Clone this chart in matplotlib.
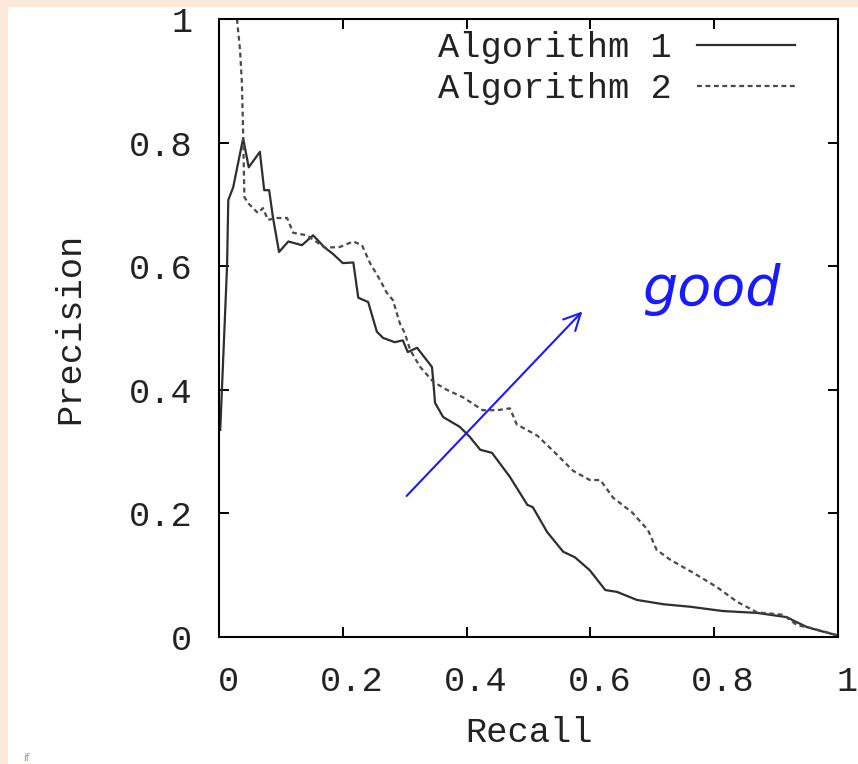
import numpy as np
import matplotlib
matplotlib.use("Agg")
import matplotlib.pyplot as plt
import matplotlib.transforms as mtransforms
from matplotlib.patches import Rectangle

# precision / recall curves
recall_alg1 = [0.002, 0.013, 0.015, 0.023, 0.039, 0.048, 0.066, 0.073, 0.081, 0.087,
               0.097, 0.112, 0.134, 0.152, 0.171, 0.184, 0.200, 0.217, 0.225, 0.241,
               0.255, 0.265, 0.284, 0.297, 0.305, 0.320, 0.344, 0.346, 0.349, 0.362,
               0.389, 0.405, 0.422, 0.441, 0.470, 0.498, 0.507, 0.530, 0.556, 0.575,
               0.599, 0.624, 0.643, 0.675, 0.718, 0.761, 0.814, 0.869, 0.918, 0.927,
               0.950, 0.971, 0.998]
precision_alg1 = [0.335, 0.600, 0.707, 0.728, 0.807, 0.760, 0.785, 0.723, 0.723, 0.680,
                  0.623, 0.640, 0.634, 0.650, 0.630, 0.620, 0.605, 0.606, 0.549, 0.542,
                  0.494, 0.484, 0.477, 0.480, 0.461, 0.468, 0.437, 0.416, 0.379, 0.356,
                  0.340, 0.324, 0.303, 0.298, 0.259, 0.214, 0.210, 0.170, 0.138, 0.129,
                  0.108, 0.076, 0.073, 0.060, 0.053, 0.049, 0.042, 0.039, 0.032, 0.027,
                  0.016, 0.010, 0.003]

recall_alg2 = [0.029, 0.034, 0.037, 0.039, 0.041, 0.047, 0.063, 0.071, 0.079, 0.094,
               0.110, 0.120, 0.142, 0.171, 0.195, 0.217, 0.231, 0.244, 0.260, 0.271,
               0.281, 0.292, 0.300, 0.309, 0.325, 0.346, 0.368, 0.394, 0.426, 0.449,
               0.470, 0.481, 0.514, 0.540, 0.572, 0.599, 0.616, 0.637, 0.667, 0.693,
               0.707, 0.729, 0.766, 0.804, 0.837, 0.869, 0.911, 0.934, 0.955, 0.998]
precision_alg2 = [1.000, 0.950, 0.896, 0.815, 0.712, 0.702, 0.686, 0.694, 0.675, 0.678,
                  0.678, 0.654, 0.650, 0.630, 0.631, 0.640, 0.634, 0.605, 0.578, 0.557,
                  0.545, 0.508, 0.492, 0.464, 0.437, 0.413, 0.400, 0.388, 0.367, 0.367,
                  0.370, 0.344, 0.326, 0.301, 0.269, 0.254, 0.254, 0.225, 0.202, 0.173,
                  0.141, 0.125, 0.104, 0.081, 0.057, 0.040, 0.036, 0.019, 0.015, 0.003]

series_names = ["Algorithm 1", "Algorithm 2"]
tick_values = [0, 0.2, 0.4, 0.6, 0.8, 1]
tick_labels = ["0", "0.2", "0.4", "0.6", "0.8", "1"]

mono = "Liberation Mono"
fs = 25.5

fig = plt.figure(figsize=(8.58, 7.64), dpi=100)
fig.patch.set_facecolor("#fde9da")
# white page area, peach strip left and top
fig.patches.append(Rectangle((8 / 858, 0), 1, 1 - 7 / 764, transform=fig.transFigure,
                             facecolor="white", edgecolor="none", zorder=-5))
fig.text(23 / 858, 1 / 764, "if", color="#7cb342", fontsize=7, va="bottom", ha="left")

ax = fig.add_axes([219 / 858, 1 - 637 / 764, 619 / 858, 618 / 764])
ax.set_facecolor("white")

ax.plot(recall_alg1, precision_alg1, color="#2e2e2e", lw=1.6, label=series_names[0])
ax.plot(recall_alg2, precision_alg2, color="#4a4a4a", lw=1.6, dashes=(2.2, 1.6),
        label=series_names[1])

ax.set_xlim(0, 1)
ax.set_ylim(0, 1)
ax.set_xticks(tick_values)
ax.set_xticklabels(tick_labels)
ax.set_yticks(tick_values)
ax.set_yticklabels(tick_labels)
ax.tick_params(direction="in", length=7, width=1.4, top=True, right=True,
               labelsize=fs, color="black")
ax.tick_params(axis="x", pad=20)
ax.tick_params(axis="y", pad=19)
for lab in ax.get_xticklabels() + ax.get_yticklabels():
    lab.set_fontfamily(mono)
    lab.set_color("#222222")
offset = mtransforms.ScaledTranslation(9 / 100, 0, fig.dpi_scale_trans)
for lab in ax.get_xticklabels():
    lab.set_transform(lab.get_transform() + offset)
for sp in ax.spines.values():
    sp.set_linewidth(1.5)

ax.set_xlabel("Recall", fontfamily=mono, fontsize=fs, color="#222222")
ax.set_ylabel("Precision", fontfamily=mono, fontsize=fs, color="#222222")
ax.xaxis.set_label_coords(0.5, -0.155)
ax.xaxis.label.set_va("center")
ax.yaxis.set_label_coords(-0.241, 0.5)
ax.yaxis.label.set_va("center")

leg = ax.legend(loc="upper right", bbox_to_anchor=(0.9305, 0.98), frameon=False,
                markerfirst=False, handlelength=2.77, handletextpad=0.7,
                borderaxespad=0, borderpad=0, labelspacing=0.22,
                prop={"family": mono, "size": fs})
for t in leg.get_texts():
    t.set_color("#222222")

# blue handwritten note
ax.annotate("", xy=(0.59, 0.53), xytext=(0.30, 0.225),
            arrowprops=dict(arrowstyle="->", color="#1a1aff", lw=1.5,
                            mutation_scale=30))
ax.text(0.795, 0.537, "good", color="#1a1aff", fontsize=40, ha="center",
        va="baseline", fontstyle="italic")

fig.savefig("out.png", dpi=100, facecolor=fig.get_facecolor())
